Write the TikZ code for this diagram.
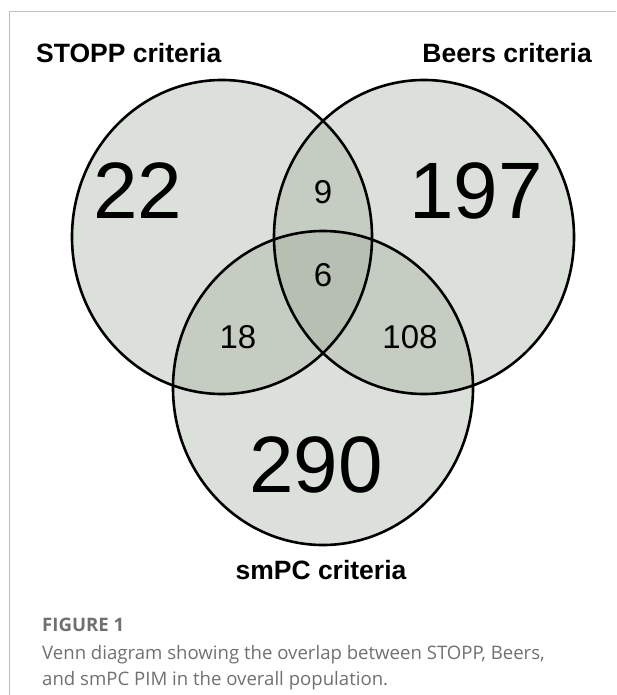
\documentclass[tikz,border=0pt]{standalone}
\usepackage{fontspec}
\setmainfont{Liberation Sans}
\newfontfamily\captionfont{Open Sans}
\definecolor{vennfill}{RGB}{153,165,147}
\definecolor{captiongray}{RGB}{112,112,112}
\definecolor{framegray}{RGB}{190,190,190}

\begin{document}
\begin{tikzpicture}[x=1pt,y=-1pt,
  halmaz/.style={fill=vennfill,fill opacity=0.34},
  korvonal/.style={draw=black,line width=2.6pt},
  cimke/.style={font=\fontsize{26.5}{26.5}\selectfont\bfseries,inner sep=0pt},
  nagyszam/.style={font=\fontsize{80}{80}\selectfont},
  kisszam/.style={font=\fontsize{33}{33}\selectfont},
  alairas/.style={font=\captionfont\fontsize{18.6}{22}\selectfont,text=captiongray,anchor=base west,inner sep=0pt}]
\useasboundingbox (0,0) rectangle (616,695);

% keret
\draw[framegray,line width=1pt] (9,695) -- (9,12) -- (616,12);

% körök (kitöltés)
\fill[halmaz] (222,237) ellipse [x radius=150pt,y radius=157pt];
\fill[halmaz] (424,237) ellipse [x radius=150pt,y radius=157pt];
\fill[halmaz] (323,388) ellipse [x radius=150pt,y radius=157pt];

% körvonalak
\draw[korvonal] (323,388) ellipse [x radius=150pt,y radius=157pt];
\draw[korvonal] (222,237) ellipse [x radius=150pt,y radius=157pt];
\draw[korvonal] (424,237) ellipse [x radius=150pt,y radius=157pt];

% feliratok
\node[cimke,anchor=base west] (stopp) at (36,63) {STOPP criteria};
\node[cimke,anchor=base east] (beers) at (592,63) {Beers criteria};
\node[cimke,anchor=base] (smpc) at (321,579) {smPC criteria};

% számok
\node[nagyszam] (csakstopp) at (138,191) {22};
\node[nagyszam] (csakbeers) at (476,191) {197};
\node[nagyszam] (csaksmpc) at (316,465) {290};
\node[kisszam] (stoppbeers) at (323,192) {9};
\node[kisszam] (mindharom) at (323,275) {6};
\node[kisszam] (stoppsmpc) at (238,337) {18};
\node[kisszam] (beerssmpc) at (410,337) {108};

% képaláírás
\node[alairas,font=\captionfont\fontsize{18.6}{22}\selectfont\bfseries] (abra) at (42,631) {FIGURE 1};
\node[alairas] (sor1) at (42,659) {Venn diagram showing the overlap between STOPP, Beers,};
\node[alairas] (sor2) at (42,685) {and smPC PIM in the overall population.};

\end{tikzpicture}
\end{document}
